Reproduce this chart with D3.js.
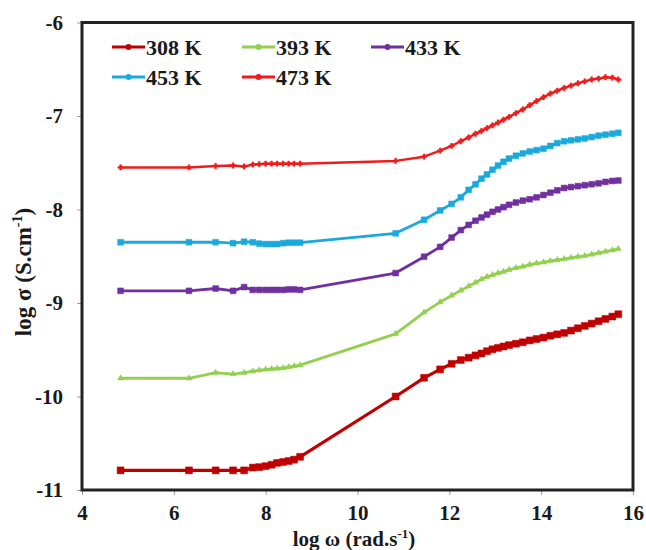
<!DOCTYPE html>
<html>
<head>
<meta charset="utf-8">
<script src="https://cdn.jsdelivr.net/npm/d3@7"></script>
<style>
  body { margin: 0; background: #fff; }
  text { font-family: "Liberation Serif", "Times New Roman", serif; font-weight: bold; fill: #1a1a1a; }
</style>
</head>
<body>
<svg id="chart" width="646" height="550"></svg>
<script>
// log of angular frequency, shared by all temperatures
const logW = [
  4.84, 6.33, 6.91, 7.29, 7.53, 7.72, 7.86, 8.0, 8.13, 8.25, 8.38, 8.5, 8.62, 8.75,
  10.83, 11.45, 11.8, 12.05, 12.25, 12.42, 12.57, 12.7, 12.82, 12.94, 13.06, 13.18, 13.3,
  13.45, 13.6, 13.75, 13.9, 14.05, 14.2, 14.35, 14.5, 14.65, 14.8, 14.95, 15.1, 15.25,
  15.4, 15.55, 15.68
];

// log sigma for each temperature
const sigma308 = [
  -10.79, -10.79, -10.79, -10.79, -10.79, -10.76, -10.755, -10.745, -10.73, -10.71, -10.70, -10.69, -10.675, -10.645,
  -10.0, -9.80, -9.71, -9.65, -9.61, -9.585, -9.56, -9.54, -9.515, -9.495, -9.48, -9.465, -9.45,
  -9.435, -9.42, -9.40, -9.385, -9.37, -9.35, -9.335, -9.32, -9.295, -9.27, -9.245, -9.22, -9.195,
  -9.17, -9.145, -9.12
];
const sigma393 = [
  -9.805, -9.805, -9.745, -9.76, -9.745, -9.73, -9.72, -9.71, -9.705, -9.70, -9.695, -9.685, -9.675, -9.665,
  -9.33, -9.10, -8.99, -8.92, -8.865, -8.82, -8.78, -8.745, -8.72, -8.70, -8.68, -8.665, -8.645,
  -8.625, -8.61, -8.59, -8.575, -8.565, -8.55, -8.54, -8.53, -8.515, -8.505, -8.495, -8.48, -8.465,
  -8.45, -8.435, -8.42
];
const sigma433 = [
  -8.87, -8.87, -8.845, -8.87, -8.83, -8.86, -8.86, -8.86, -8.86, -8.86, -8.86, -8.855, -8.855, -8.86,
  -8.68, -8.505, -8.40, -8.30, -8.22, -8.165, -8.12, -8.085, -8.055, -8.025, -8.0, -7.975, -7.95,
  -7.925, -7.905, -7.89, -7.87, -7.845, -7.82, -7.795, -7.77, -7.76, -7.75, -7.74, -7.73, -7.72,
  -7.705, -7.695, -7.69
];
const sigma453 = [
  -8.35, -8.35, -8.35, -8.36, -8.345, -8.35, -8.365, -8.37, -8.37, -8.37, -8.36, -8.355, -8.355, -8.355,
  -8.255, -8.11, -8.01, -7.94, -7.87, -7.79, -7.73, -7.67, -7.625, -7.575, -7.53, -7.49, -7.455,
  -7.425, -7.40, -7.38, -7.365, -7.35, -7.32, -7.29, -7.27, -7.26, -7.25, -7.24, -7.225, -7.21,
  -7.20, -7.19, -7.18
];
const sigma473 = [
  -7.55, -7.55, -7.535, -7.53, -7.54, -7.52, -7.515, -7.51, -7.51, -7.51, -7.51, -7.51, -7.51, -7.51,
  -7.48, -7.435, -7.37, -7.32, -7.27, -7.23, -7.19, -7.16, -7.13, -7.10, -7.07, -7.04, -7.01,
  -6.97, -6.93, -6.885, -6.84, -6.80, -6.76, -6.73, -6.70, -6.675, -6.65, -6.63, -6.61, -6.60,
  -6.585, -6.59, -6.61
];

const seriesNames = ['308 K', '393 K', '433 K', '453 K', '473 K'];
const xTicks = [4, 6, 8, 10, 12, 14, 16];
const yTicks = [-6, -7, -8, -9, -10, -11];

const series = [
  { name: seriesNames[0], values: sigma308, color: '#c00000', marker: d3.symbolSquare, size: 48, width: 3.2 },
  { name: seriesNames[1], values: sigma393, color: '#92d050', marker: d3.symbolTriangle, size: 16, width: 2.8 },
  { name: seriesNames[2], values: sigma433, color: '#7030a0', marker: d3.symbolSquare, size: 34, width: 2.8 },
  { name: seriesNames[3], values: sigma453, color: '#1aa9dd', marker: d3.symbolSquare, size: 34, width: 2.8 },
  { name: seriesNames[4], values: sigma473, color: '#ee1c1c', marker: d3.symbolCross, size: 16, width: 2.5 }
];

const svg = d3.select('#chart');
const plot = { left: 82, right: 633, top: 22.5, bottom: 490 };

const x = d3.scaleLinear().domain([4, 16]).range([plot.left, plot.right]);
const y = d3.scaleLinear().domain([-11, -6]).range([plot.bottom, plot.top]);

// axes
const xAxis = svg.append('g')
  .attr('transform', `translate(0,${plot.bottom})`)
  .call(d3.axisBottom(x).tickValues(xTicks).tickSize(5).tickPadding(10).tickFormat(d => String(d)));
const yAxis = svg.append('g')
  .attr('transform', `translate(${plot.left},0)`)
  .call(d3.axisLeft(y).tickValues(yTicks).tickSize(5).tickPadding(14).tickFormat(d => String(d)));

[xAxis, yAxis].forEach(g => {
  g.select('.domain').remove();
  g.selectAll('.tick line').attr('stroke', '#999').attr('stroke-width', 1);
  g.selectAll('.tick text')
    .attr('font-family', '"Liberation Serif", serif')
    .attr('font-weight', 'bold')
    .attr('font-size', 21)
    .attr('fill', '#1a1a1a');
});

// frame
svg.append('rect')
  .attr('x', plot.left).attr('y', plot.top)
  .attr('width', plot.right - plot.left).attr('height', plot.bottom - plot.top)
  .attr('fill', 'none').attr('stroke', '#222').attr('stroke-width', 3);

// series
const line = d3.line().x((d, i) => x(logW[i])).y(d => y(d));

series.forEach(s => {
  svg.append('path')
    .datum(s.values)
    .attr('fill', 'none')
    .attr('stroke', s.color)
    .attr('stroke-width', s.width)
    .attr('stroke-linejoin', 'round')
    .attr('d', line);

  svg.append('g').selectAll('path')
    .data(s.values)
    .join('path')
    .attr('transform', (d, i) => `translate(${x(logW[i])},${y(d)})`)
    .attr('d', d3.symbol().type(s.marker).size(s.size))
    .attr('fill', s.color)
    .attr('stroke', s.color)
    .attr('stroke-width', 0.5);
});

// legend
const legendCols = [112, 242, 371];
const legendRows = [47, 77];
series.forEach((s, i) => {
  const lx = legendCols[i % 3], ly = legendRows[Math.floor(i / 3)];
  const g = svg.append('g').attr('transform', `translate(${lx},${ly})`);
  g.append('line')
    .attr('x1', 0).attr('x2', 33).attr('y1', 0).attr('y2', 0)
    .attr('stroke', s.color).attr('stroke-width', 2.8);
  g.append('circle').attr('cx', 16.5).attr('cy', 0).attr('r', 3).attr('fill', s.color);
  g.append('text')
    .attr('x', 34).attr('y', 7.5)
    .attr('font-size', 22)
    .text(s.name);
});

// axis titles
const xTitle = svg.append('text')
  .attr('x', 354).attr('y', 546)
  .attr('text-anchor', 'middle')
  .attr('font-size', 21);
xTitle.append('tspan').text('log ω (rad.s');
xTitle.append('tspan').attr('font-size', 13).attr('dy', -8).text('-1');
xTitle.append('tspan').attr('dy', 8).text(')');

const yTitle = svg.append('text')
  .attr('transform', 'translate(31,272) rotate(-90)')
  .attr('text-anchor', 'middle')
  .attr('font-size', 23);
yTitle.append('tspan').text('log  σ (S.cm');
yTitle.append('tspan').attr('font-size', 14).attr('dy', -9).text('-1');
yTitle.append('tspan').attr('dy', 9).text(')');
</script>
</body>
</html>
